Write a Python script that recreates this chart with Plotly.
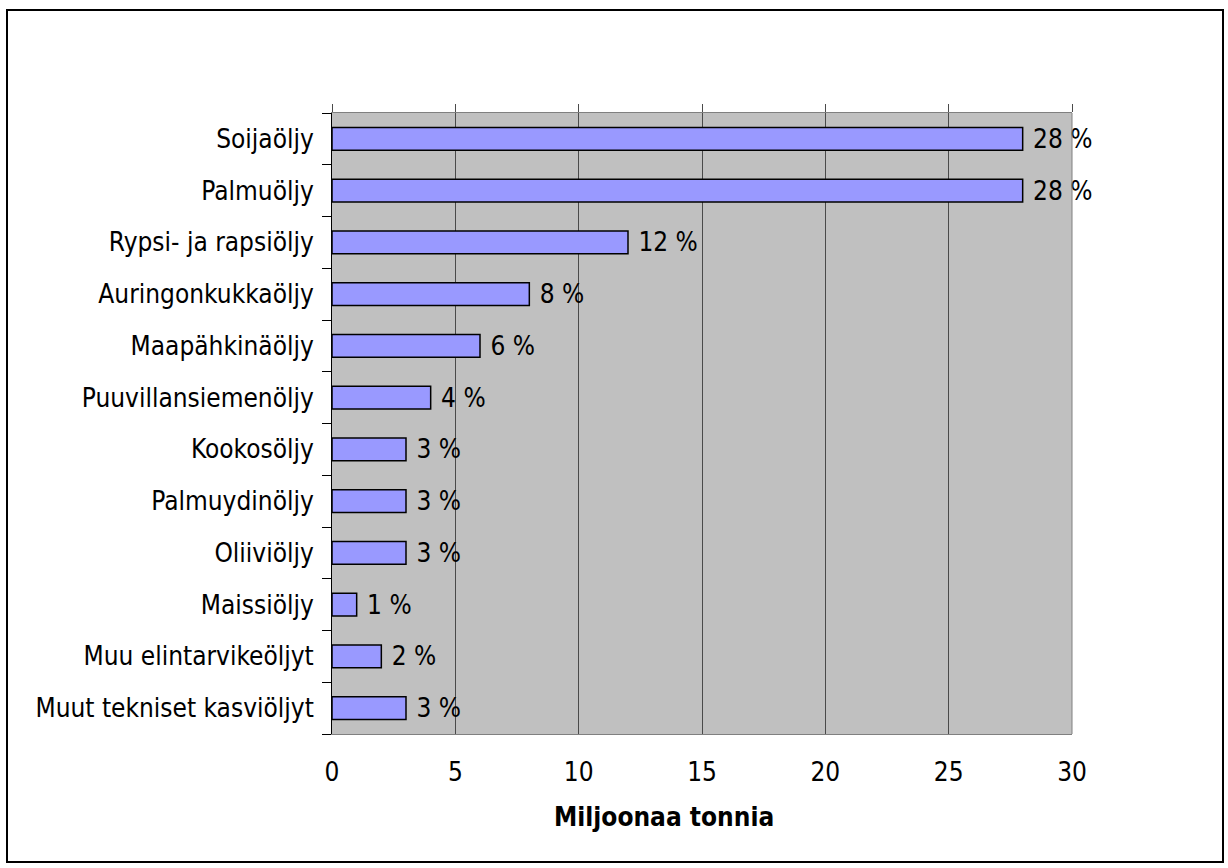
import plotly.graph_objects as go

categories = ["Soijaöljy", "Palmuöljy", "Rypsi- ja rapsiöljy", "Auringonkukkaöljy",
              "Maapähkinäöljy", "Puuvillansiemenöljy", "Kookosöljy", "Palmuydinöljy",
              "Oliiviöljy", "Maissiöljy", "Muu elintarvikeöljyt", "Muut tekniset kasviöljyt"]
values = [28, 28, 12, 8, 6, 4, 3, 3, 3, 1, 2, 3]
labels = ["28 %", "28 %", "12 %", "8 %", "6 %", "4 %", "3 %", "3 %", "3 %", "1 %", "2 %", "3 %"]
x_ticks = [0, 5, 10, 15, 20, 25, 30]
x_title = "Miljoonaa tonnia"

W, H = 1228, 868
ml, mr, mt, mb = 332, 156, 113, 134
FONT = "DejaVu Sans Condensed"
FS = 26

fig = go.Figure()
fig.add_trace(go.Bar(
    y=categories, x=values, orientation="h",
    marker=dict(color="#9999FF", line=dict(color="black", width=1.5)),
    text=labels, textposition="outside", cliponaxis=False, constraintext="none",
    textfont=dict(family=FONT, size=FS, color="black"),
    texttemplate=" %{text}",
    showlegend=False,
))
# invisible trace to drive top tick marks
fig.add_trace(go.Scatter(x=[0, 30], y=[categories[0], categories[0]], xaxis="x2",
                         mode="markers", marker=dict(opacity=0), showlegend=False,
                         hoverinfo="skip"))

pw = W - ml - mr
ph = H - mt - mb
fig.update_layout(
    width=W, height=H,
    margin=dict(l=ml, r=mr, t=mt, b=mb),
    paper_bgcolor="white", plot_bgcolor="#C0C0C0",
    bargap=0.56,
    font=dict(family=FONT, size=FS, color="black"),
    xaxis=dict(range=[0, 30], tickvals=x_ticks, showgrid=True, gridcolor="#4a4a4a",
               gridwidth=1, zeroline=False, ticks="", showline=True, linecolor="#808080",
               linewidth=1, mirror=False, ticklabelstandoff=15,
               tickfont=dict(family=FONT, size=FS)),
    xaxis2=dict(range=[0, 30], tickvals=x_ticks, overlaying="x", side="top",
                ticks="outside", ticklen=8, tickcolor="#4a4a4a", showticklabels=False,
                showgrid=False, zeroline=False, showline=True, linecolor="#808080"),
    yaxis=dict(categoryorder="array", categoryarray=categories[::-1],
               autorange=False, range=[-0.5, len(categories) - 0.5],
               ticks="outside", tickson="boundaries", ticklen=9, tickcolor="black",
               showline=True, linecolor="black", linewidth=1, showgrid=False,
               ticklabelstandoff=12, tickfont=dict(family=FONT, size=FS)),
    annotations=[
        dict(text="<b>" + x_title + "</b>", xref="paper", yref="paper",
             x=(664 - ml) / pw, y=(H - mb - 817) / ph, xanchor="center", yanchor="middle",
             showarrow=False, font=dict(family=FONT, size=FS, color="black")),
    ],
    shapes=[
        dict(type="rect", xref="paper", yref="paper",
             x0=(7 - ml) / pw, x1=(1223 - ml) / pw,
             y0=(H - mb - 862) / ph, y1=(H - mb - 10) / ph,
             line=dict(color="black", width=2), fillcolor="rgba(0,0,0,0)", layer="below"),
        dict(type="line", xref="paper", yref="paper", x0=1, x1=1, y0=0, y1=1,
             line=dict(color="#808080", width=1)),
    ],
)
fig.write_html("out.html")
